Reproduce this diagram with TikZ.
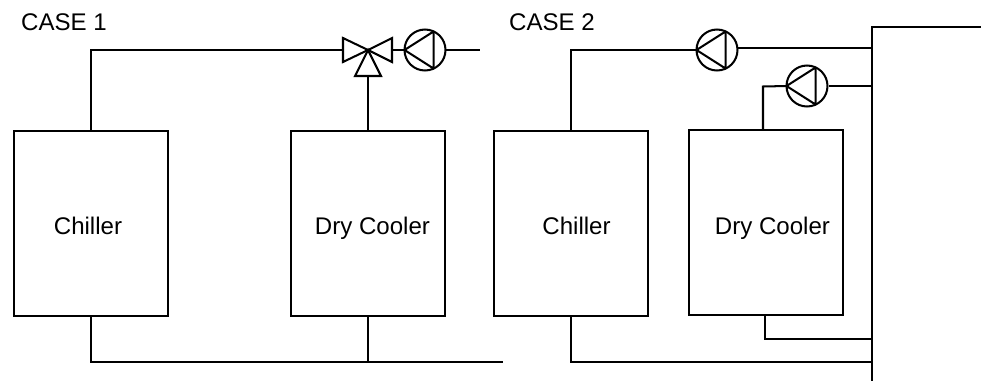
\documentclass[tikz,border=0pt]{standalone}
\usepackage{fontspec}
\setmainfont{Liberation Sans}
\usetikzlibrary{calc}

\tikzset{
	unit/.style={draw, minimum width=3.08cm, minimum height=3.7cm, inner sep=0pt, outer sep=0pt},
	pump/.style={draw, circle, minimum size=0.82cm, inner sep=0pt, outer sep=0pt},
	tag/.style={font=\fontsize{13.7pt}{15pt}\selectfont, inner sep=0pt, anchor=base}
}
% triangle inside a pump circle
\newcommand{\pumptri}[1]{\draw[line join=round] (#1.west) -- (#1.65) -- (#1.-65) -- cycle;}

\begin{document}
\begin{tikzpicture}[x=0.02cm, y=-0.02cm, line width=1.15pt]
		\useasboundingbox (0, 0) rectangle (981, 383);

		% case 1
		\node[tag] (caseA) at (64, 30) {CASE 1};
		\node[unit] (chillerA) at (91, 223.5) {};
		\node[unit] (coolerA) at (368, 223.5) {};
		\node[tag] (chillerAtext) at (88, 234) {Chiller};
		\node[tag] (coolerAtext) at (372.5, 234) {Dry Cooler};
		\node[pump] (pumpA) at (425, 50) {};
		\pumptri{pumpA}

		\coordinate (V) at (368, 50);
		\coordinate (VL) at (343, 50);
		\coordinate (VR) at (392, 50);
		\coordinate (VB) at (368, 76);
		\draw[line join=miter] (V) -- (343, 38) -- (343, 62) -- cycle;
		\draw[line join=miter] (V) -- (392, 38) -- (392, 62) -- cycle;
		\draw[line join=miter] (V) -- (355, 76) -- (381, 76) -- cycle;

		\coordinate (pipeAend) at (480, 50);
		\coordinate (topAcorner) at (91, 50);
		\coordinate (botAcorner) at (91, 362);
		\coordinate (botAjoin) at (368, 362);
		\coordinate (botAend) at (503, 362);

		\draw (chillerA.north) -- (topAcorner) -- (VL);
		\draw (VB) -- (coolerA.north);
		\draw (VR) -- (pumpA.west);
		\draw (pumpA.east) -- (pipeAend);
		\draw (chillerA.south) -- (botAcorner) -- (botAend);
		\draw (coolerA.south) -- (botAjoin);

		% case 2
		\node[tag] (caseB) at (552, 30) {CASE 2};
		\node[unit] (chillerB) at (571, 223.5) {};
		\node[unit] (coolerB) at (766, 222.5) {};
		\node[tag] (chillerBtext) at (576.5, 234) {Chiller};
		\node[tag] (coolerBtext) at (772.5, 234) {Dry Cooler};
		\node[pump] (pumpB) at (717, 50) {};
		\node[pump] (pumpC) at (807, 86) {};
		\pumptri{pumpB}
		\pumptri{pumpC}

		\coordinate (tankTop) at (872, 27);
		\coordinate (tankTopEnd) at (981, 27);
		\coordinate (tankEnd) at (872, 381);
		\draw (tankTopEnd) -- (tankTop) -- (tankEnd);

		\coordinate (topBcorner) at (571, 50);
		\coordinate (tankB) at (872, 48);
		\coordinate (pumpBout) at (737, 48);
		\draw (chillerB.north) -- (topBcorner) -- (pumpB.west);
		\draw (pumpBout) -- (tankB);

		\coordinate (topCcorner) at (763, 86.5);
		\coordinate (coolerBtop) at (763, 129);
		\coordinate (tankC) at (872, 86);
		\coordinate (pumpCout) at (829, 86);
		\draw (coolerBtop) -- (topCcorner) -- (pumpC.west);
		\draw (pumpCout) -- (tankC);

		\coordinate (coolerBbot) at (765, 315);
		\coordinate (botCcorner) at (765, 339);
		\coordinate (tankD) at (872, 339);
		\draw (coolerBbot) -- (botCcorner) -- (tankD);

		\coordinate (botBcorner) at (571, 362);
		\coordinate (tankE) at (872, 362);
		\draw (chillerB.south) -- (botBcorner) -- (tankE);
	\end{tikzpicture}
\end{document}
